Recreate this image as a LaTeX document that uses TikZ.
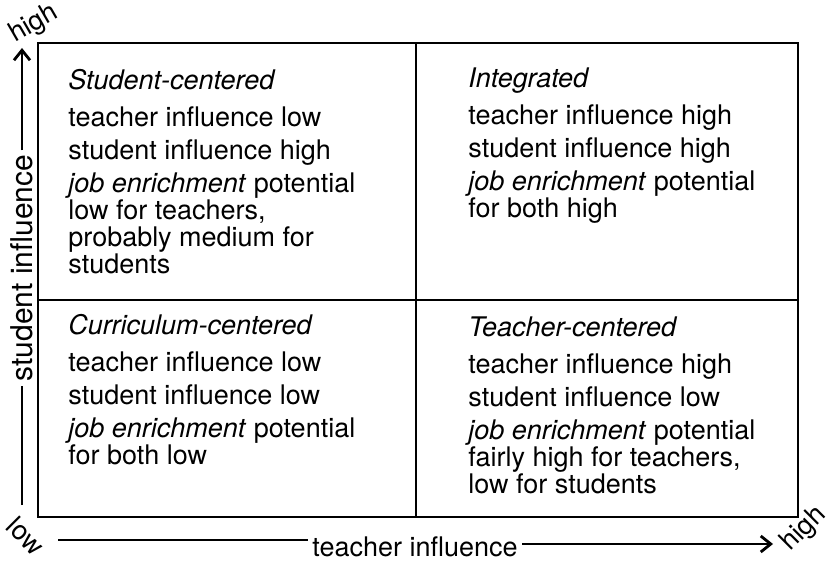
\documentclass[tikz,border=0pt]{standalone}
\usepackage{fontspec}
\setmainfont{TeX Gyre Heros}
\usetikzlibrary{arrows.meta,positioning}

\tikzset{
  frameline/.style={line width=1.2pt},
  axisline/.style={line width=1.4pt},
  axisarrow/.style={axisline,-{Straight Barb[length=5pt,width=8pt]}},
  celltext/.style={anchor=north west,inner sep=0pt,align=left,font=\fontsize{13.5}{13.5}\selectfont},
  axislabel/.style={inner sep=2pt,font=\fontsize{13.5}{13.5}\selectfont},
  endlabel/.style={inner sep=0pt,font=\fontsize{13.5}{13.5}\selectfont},
}

\begin{document}
\begin{tikzpicture}[x=0.5pt,y=-0.5pt]
  \useasboundingbox (0,0) rectangle (830,561);

  % Frame and quadrants
  \draw[frameline] (38,43) rectangle (798,517);
  \draw[frameline] (416,43) -- (416,517);
  \draw[frameline] (38,300) -- (798,300);

  % Quadrant texts
  \node[celltext] (studcell) at (68,69) {\textit{Student-centered}\\[5pt]
    teacher influence low\\[3pt]
    student influence high\\[3pt]
    \textit{job enrichment} potential\\
    low for teachers,\\
    probably medium for\\
    students};
  \node[celltext] (integcell) at (468,67) {\textit{Integrated}\\[5pt]
    teacher influence high\\[3pt]
    student influence high\\[3pt]
    \textit{job enrichment} potential\\
    for both high};
  \node[celltext] (curriccell) at (68,314) {\textit{Curriculum-centered}\\[5pt]
    teacher influence low\\[3pt]
    student influence low\\[3pt]
    \textit{job enrichment} potential\\
    for both low};
  \node[celltext] (teachcell) at (468,316) {\textit{Teacher-centered}\\[5pt]
    teacher influence high\\[3pt]
    student influence low\\[3pt]
    \textit{job enrichment} potential\\
    fairly high for teachers,\\
    low for students};

  % Vertical axis
  \coordinate (ylow) at (22,505);
  \coordinate (yhigh) at (22,48);
  \node[axislabel,font=\fontsize{15}{15}\selectfont,rotate=90] (ylab) at (22,268) {student influence};
  \draw[axisline] (ylow) -- (ylab);
  \draw[axisarrow] (ylab) -- (yhigh);
  \node[endlabel,rotate=30] (yhighlab) at (34,24) {high};

  % Horizontal axis
  \coordinate (xlow) at (58,540);
  \coordinate (xhigh) at (773,544);
  \node[axislabel] (xlab) at (415,547) {teacher influence};
  \draw[axisline] (xlow) -- (xlab.west |- xlow);
  \draw[axisarrow] (xlab.east |- xhigh) -- (xhigh);
  \node[endlabel,rotate=-45] (xlowlab) at (26,536) {low};
  \node[endlabel,rotate=45] (xhighlab) at (804,529) {high};
\end{tikzpicture}
\end{document}
